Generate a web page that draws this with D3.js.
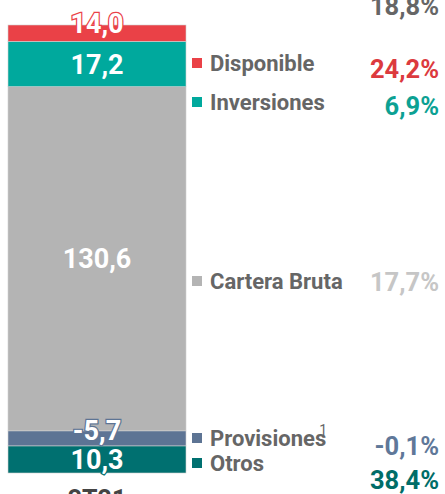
<!DOCTYPE html>
<html>
<head>
<meta charset="utf-8">
<script src="https://cdn.jsdelivr.net/npm/d3@7"></script>
<style>
  body { margin: 0; background: #fff; }
  text { font-family: Roboto, "Noto Sans", sans-serif; }
</style>
</head>
<body>
<div id="chart"></div>
<script>
(function () {
    // data
    var period = "3T21";
    var series = ["Disponible", "Inversiones", "Cartera Bruta", "Provisiones", "Otros"];
    var values = [14.0, 17.2, 130.6, -5.7, 10.3];
    var growth = [24.2, 6.9, 17.7, -0.1, 38.4];
    var totalGrowth = 18.8;
    var yMax = 170;

    // styles
    var barColors = ["#ea4147", "#00a99d", "#b4b4b4", "#5d7494", "#007070"];
    var pctColors = ["#dc3a3e", "#0ca193", "#c6c6c6", "#5f7899", "#006d68"];
    // legend layout (row centre, percent baseline)
    var legendY = [63, 102, 281, 438, 463];
    var pctY = [78, 115, 291, 455, 489];

    var width = 445,
        height = 494;

    var svg = d3.select("#chart")
        .append("svg")
        .attr("width", width)
        .attr("height", height);

    var locale = d3.formatLocale({decimal: ",", thousands: ".", grouping: [3], currency: ["", "€"], minus: "-"});
    var fmt = locale.format(".1f");

    var x = d3.scaleBand().domain([period]).range([8, 186]).padding(0);
    var y = d3.scaleLinear().domain([0, yMax]).range([473, 25]).clamp(true);
    var yFree = y.copy().clamp(false);

    // stacked from bottom: Otros first
    var row = {period: period};
    series.forEach(function (s, i) { row[s] = values[i]; });
    var keys = series.slice().reverse();
    var stacked = d3.stack()
        .keys(keys)
        .value(function (d, k) { return Math.abs(d[k]); })([row]);

    svg.selectAll(".seg")
        .data(stacked)
        .enter().append("rect")
        .attr("class", "seg")
        .attr("x", x(period))
        .attr("width", x.bandwidth())
        .attr("y", function (d) { return y(d[0][1]); })
        .attr("height", function (d) { return y(d[0][0]) - y(d[0][1]); })
        .attr("fill", function (d) { return barColors[series.indexOf(d.key)]; })
        .attr("stroke", "#cfcfcf")
        .attr("stroke-width", 0.6);

    svg.selectAll(".seg-label")
        .data(stacked)
        .enter().append("text")
        .attr("class", "seg-label")
        .attr("x", x(period) + x.bandwidth() / 2)
        .attr("y", function (d) {
            var mid = (yFree(d[0][0]) + yFree(d[0][1])) / 2;
            var h = yFree(d[0][0]) - yFree(d[0][1]);
            return h < 20 && d[0][0] > 0 ? mid - 8 : mid;
        })
        .attr("dy", "0.36em")
        .attr("text-anchor", "middle")
        .attr("font-size", 27)
        .attr("font-weight", 700)
        .attr("fill", "#fff")
        .attr("stroke", function (d) { return barColors[series.indexOf(d.key)]; })
        .attr("stroke-width", 2.5)
        .attr("paint-order", "stroke")
        .text(function (d) { return fmt(row[d.key]); });

    // legend
    var legend = svg.selectAll(".legend")
        .data(series)
        .enter().append("g")
        .attr("class", "legend")
        .attr("transform", function (d, i) { return "translate(0," + legendY[i] + ")"; });

    legend.append("rect")
        .attr("x", 192)
        .attr("y", -5)
        .attr("width", 10)
        .attr("height", 10)
        .attr("fill", function (d, i) { return barColors[i]; });

    var lt = legend.append("text")
        .attr("x", 210)
        .attr("dy", "0.36em")
        .attr("font-size", 22)
        .attr("font-weight", 700)
        .attr("fill", "#666")
        .text(function (d) { return d; });

    lt.filter(function (d) { return d === "Provisiones"; })
        .append("tspan")
        .attr("dx", -7)
        .attr("dy", -11)
        .attr("font-size", 14)
        .attr("font-weight", 400)
        .text("1");

    svg.selectAll(".pct")
        .data(growth)
        .enter().append("text")
        .attr("class", "pct")
        .attr("x", 439)
        .attr("y", function (d, i) { return pctY[i]; })
        .attr("text-anchor", "end")
        .attr("font-size", 25.5)
        .attr("font-weight", 700)
        .attr("fill", function (d, i) { return pctColors[i]; })
        .text(function (d) { return fmt(d) + "%"; });

    svg.append("text")
        .attr("x", 439)
        .attr("y", 15)
        .attr("text-anchor", "end")
        .attr("font-size", 25.5)
        .attr("font-weight", 700)
        .attr("fill", "#666")
        .text(fmt(totalGrowth) + "%");

    svg.append("text")
        .attr("x", x(period) + x.bandwidth() / 2)
        .attr("y", 508)
        .attr("text-anchor", "middle")
        .attr("font-size", 25)
        .attr("font-weight", 700)
        .attr("fill", "#444")
        .text(period);
})();
</script>
</body>
</html>
